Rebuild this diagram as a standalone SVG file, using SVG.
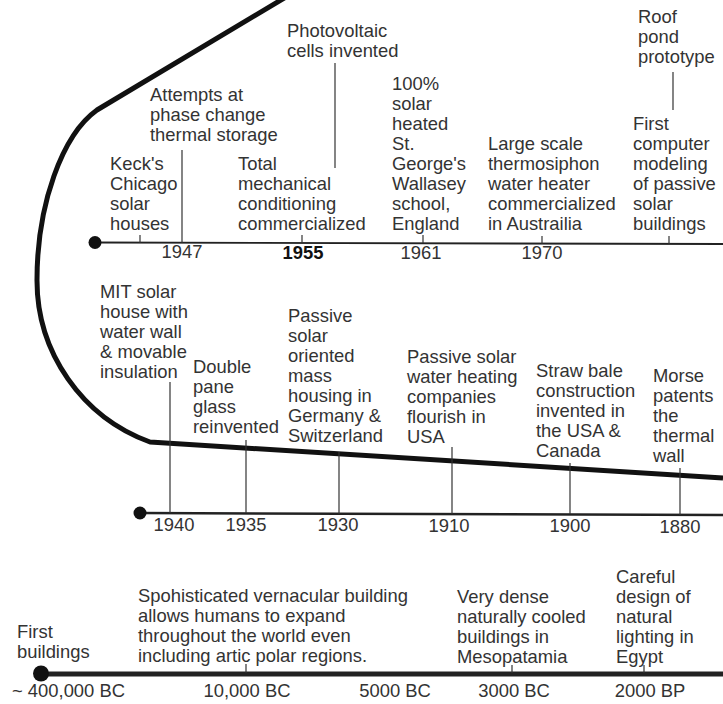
<svg xmlns="http://www.w3.org/2000/svg" width="723" height="704" viewBox="0 0 723 704">
<style>
text{font-family:"Liberation Sans",Arial,sans-serif;font-size:18.4px;fill:#333}
.yr{text-anchor:middle}
.b{font-weight:bold;fill:#111}
.tick{stroke:#333;stroke-width:1.2;fill:none}
.axis{stroke:#222;fill:none}
.dot{fill:#111}
</style>
<rect width="723" height="704" fill="#fff"/>
<g id="connectors">
<path id="band" d="M 286 -3 L 97 110 C 62 135 37 205 37 280 A 172 172 0 0 0 150 442 L 723 478" stroke="#111" stroke-width="5" fill="none" stroke-linejoin="round"/>
<line class="axis" x1="95" y1="242.5" x2="723" y2="244" stroke-width="1.8"/>
<line class="axis" x1="140" y1="513" x2="723" y2="515" stroke-width="2.5"/>
<line class="axis" x1="40" y1="674" x2="723" y2="674" stroke-width="5" stroke="#111"/>
<circle class="dot" cx="95" cy="242.5" r="6.5"/>
<circle class="dot" cx="140" cy="513" r="6.5"/>
<circle class="dot" cx="41" cy="673.5" r="8"/>
<line class="tick" x1="140" y1="235" x2="140" y2="243"/>
<line class="tick" x1="182" y1="150" x2="182" y2="243"/>
<line class="tick" x1="302" y1="235" x2="302" y2="243"/>
<line class="tick" x1="335" y1="63" x2="335" y2="168"/>
<line class="tick" x1="423" y1="235" x2="423" y2="243"/>
<line class="tick" x1="542" y1="236" x2="542" y2="244"/>
<line class="tick" x1="669" y1="236" x2="669" y2="244"/>
<line class="tick" x1="673" y1="72" x2="673" y2="110"/>
<line class="tick" x1="170" y1="382" x2="170" y2="513"/>
<line class="tick" x1="246" y1="440" x2="246" y2="513"/>
<line class="tick" x1="339" y1="452" x2="339" y2="514"/>
<line class="tick" x1="452" y1="447" x2="452" y2="514"/>
<line class="tick" x1="570" y1="463" x2="570" y2="514"/>
<line class="tick" x1="680" y1="468" x2="680" y2="515"/>
<line class="tick" x1="246" y1="664" x2="246" y2="673"/>
<line class="tick" x1="512" y1="665" x2="512" y2="673"/>
<line class="tick" x1="644" y1="665" x2="644" y2="673"/>
</g>
<g id="keck"><text x="110" y="170">Keck's</text><text x="110" y="190">Chicago</text><text x="110" y="210">solar</text><text x="110" y="230">houses</text></g>
<g id="attempts"><text x="150" y="101">Attempts at</text><text x="150" y="121">phase change</text><text x="150" y="141">thermal storage</text></g>
<g id="total"><text x="238" y="170">Total</text><text x="238" y="190">mechanical</text><text x="238" y="210">conditioning</text><text x="238" y="230">commercialized</text></g>
<g id="pv"><text x="287" y="37">Photovoltaic</text><text x="287" y="57">cells invented</text></g>
<g id="stgeorge"><text x="392" y="90">100%</text><text x="392" y="110">solar</text><text x="392" y="130">heated</text><text x="392" y="150">St.</text><text x="392" y="170">George's</text><text x="392" y="190">Wallasey</text><text x="392" y="210">school,</text><text x="392" y="230">England</text></g>
<g id="thermosiphon"><text x="488" y="150">Large scale</text><text x="488" y="170">thermosiphon</text><text x="488" y="190">water heater</text><text x="488" y="210">commercialized</text><text x="488" y="230">in Austrailia</text></g>
<g id="computer"><text x="633" y="130">First</text><text x="633" y="150">computer</text><text x="633" y="170">modeling</text><text x="633" y="190">of passive</text><text x="633" y="210">solar</text><text x="633" y="230">buildings</text></g>
<g id="roofpond"><text x="638" y="23">Roof</text><text x="638" y="43">pond</text><text x="638" y="63">prototype</text></g>
<g id="years-top"><text class="yr" x="182" y="258">1947</text><text class="yr b" x="303" y="259">1955</text><text class="yr" x="421" y="259">1961</text><text class="yr" x="542" y="259">1970</text></g>
<g id="mit"><text x="100" y="298">MIT solar</text><text x="100" y="318">house with</text><text x="100" y="338">water wall</text><text x="100" y="358">&amp; movable</text><text x="100" y="378">insulation</text></g>
<g id="doublepane"><text x="193" y="373">Double</text><text x="193" y="393">pane</text><text x="193" y="413">glass</text><text x="193" y="433">reinvented</text></g>
<g id="massh"><text x="288" y="322">Passive</text><text x="288" y="342">solar</text><text x="288" y="362">oriented</text><text x="288" y="382">mass</text><text x="288" y="402">housing in</text><text x="288" y="422">Germany &amp;</text><text x="288" y="442">Switzerland</text></g>
<g id="waterheat"><text x="407" y="363">Passive solar</text><text x="407" y="383">water heating</text><text x="407" y="403">companies</text><text x="407" y="423">flourish in</text><text x="407" y="443">USA</text></g>
<g id="strawbale"><text x="536" y="377">Straw bale</text><text x="536" y="397">construction</text><text x="536" y="417">invented in</text><text x="536" y="437">the USA &amp;</text><text x="536" y="457">Canada</text></g>
<g id="morse"><text x="653" y="382">Morse</text><text x="653" y="402">patents</text><text x="653" y="422">the</text><text x="653" y="442">thermal</text><text x="653" y="462">wall</text></g>
<g id="years-mid"><text class="yr" x="174" y="531">1940</text><text class="yr" x="246" y="531">1935</text><text class="yr" x="338" y="531">1930</text><text class="yr" x="449" y="532">1910</text><text class="yr" x="570" y="532">1900</text><text class="yr" x="680" y="533">1880</text></g>
<g id="first"><text x="17" y="638">First</text><text x="17" y="658">buildings</text></g>
<g id="vernacular"><text x="138" y="602">Spohisticated vernacular building</text><text x="138" y="622">allows humans to expand</text><text x="138" y="642">throughout the world even</text><text x="138" y="662">including artic polar regions.</text></g>
<g id="meso"><text x="457" y="603">Very dense</text><text x="457" y="623">naturally cooled</text><text x="457" y="643">buildings in</text><text x="457" y="663">Mesopatamia</text></g>
<g id="egypt"><text x="616" y="583">Careful</text><text x="616" y="603">design of</text><text x="616" y="623">natural</text><text x="616" y="643">lighting in</text><text x="616" y="663">Egypt</text></g>
<g id="years-bot"><text x="12" y="697">~ 400,000 BC</text><text class="yr" x="247" y="697">10,000 BC</text><text class="yr" x="395" y="697">5000 BC</text><text class="yr" x="514" y="697">3000 BC</text><text class="yr" x="650" y="697">2000 BP</text></g>
</svg>
